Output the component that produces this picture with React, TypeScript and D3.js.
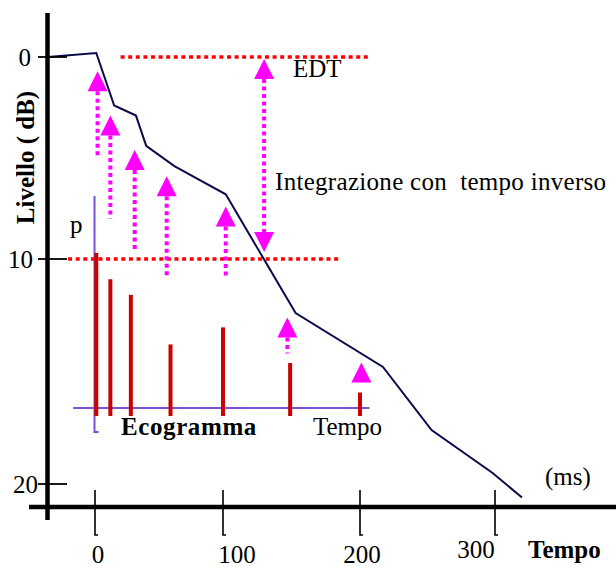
import React from 'react';
import * as d3 from 'd3';

// decay curve (time in ms, level in dB below start)
const curveMs = [-37, 1, 15, 32, 40, 62, 102, 153, 217, 253, 298, 320];
const curveDb = [0, -0.2, 2.4, 2.9, 4.4, 5.4, 6.8, 12.4, 14.8, 17.6, 19.5, 20.6];

// echogram reflections
const echoMs = [1, 12, 28, 59, 100, 149, 200];
const echoAmp = [1.0, 0.83, 0.73, 0.41, 0.52, 0.29, 0.1];

// backward integration arrows
const arrowMs = [2, 12, 31, 56, 102, 147, 201];
const arrowTipDb = [0.7, 2.9, 4.6, 5.9, 7.4, 12.6, 14.6];
const arrowTailDb = [4.9, 8.0, 9.5, 10.8, 10.8, 14.2, 14.6];

// EDT range
const edtDb = [0, 10];
const edtFromMs = [20, -21];
const edtToMs = [206, 185];
const edtArrowMs = 130;

const xTicks = [0, 100, 200, 300];
const yTicks = [0, 10, 20];

const W = 616;
const H = 568;
const serif = '"Liberation Serif", "Times New Roman", serif';

const x = d3.scaleLinear().domain([0, 100, 200, 300]).range([95, 223, 360, 495]);
const y = d3.scaleLinear().domain([0, 10, 20]).range([57, 259, 484]);
const amp = d3.scaleLinear().domain([0, 1]).range([408, 253]);

const line = d3
  .line<number>()
  .x((d) => x(d))
  .y((_d, i) => y(curveDb[i]));

const head = (cx: number, tip: number, dir: number) =>
  `M${cx},${tip} L${cx - 10},${tip + dir * 20} L${cx + 10},${tip + dir * 20} Z`;

// hand placement of the tick labels, as in the slide
const xLabelDx = [3, 14, 2, -19];
const xLabelDy = [0, 0, 0, -5];
const yLabelDx = [-4, -2, 3];

export default function App() {
  const magenta = '#ff00ff';
  const purple = '#7b4fd8';
  const dbx = x(edtArrowMs);
  return (
    <svg width={W} height={H} style={{ position: 'absolute', left: 0, top: 0, background: '#fff' }} fontFamily={serif}>
      <defs>
        <clipPath id="ylab">
          <rect x={16} y={0} width={40} height={H} />
        </clipPath>
      </defs>

      {/* EDT dotted lines */}
      {edtDb.map((d, i) => (
        <line key={'edt' + i} x1={x(edtFromMs[i])} x2={x(edtToMs[i])} y1={y(d)} y2={y(d)}
          stroke="#ff0000" strokeWidth={3.5} strokeDasharray="4 3.6" />
      ))}

      {/* echogram axes */}
      <path d={`M${x(0) - 0.5},196 V${amp(0) + 24} h4`} fill="none" stroke={purple} strokeWidth={2} />
      <line x1={x(-17)} x2={x(207)} y1={amp(0)} y2={amp(0)} stroke={purple} strokeWidth={2} />

      {/* reflections */}
      {echoMs.map((t, i) => (
        <line key={'e' + i} x1={x(t)} x2={x(t)} y1={amp(0) + 8} y2={amp(echoAmp[i])} stroke="#cc0000" strokeWidth={4} />
      ))}

      {/* integration arrows */}
      {arrowMs.map((t, i) => {
        const cx = x(t);
        const tip = y(arrowTipDb[i]);
        const base = tip + 20;
        const tail = y(arrowTailDb[i]);
        return (
          <g key={'a' + i}>
            {tail > base + 2 && (
              <line x1={cx} x2={cx} y1={base} y2={tail} stroke={magenta} strokeWidth={4} strokeDasharray="4 3.5" />
            )}
            <path d={head(cx, tip, 1)} fill={magenta} />
          </g>
        );
      })}

      {/* EDT double arrow */}
      <line x1={dbx} x2={dbx} y1={y(edtDb[0]) + 22} y2={y(edtDb[1]) - 27} stroke={magenta} strokeWidth={4} strokeDasharray="4 3.5" />
      <path d={head(dbx, y(edtDb[0]) + 2, 1)} fill={magenta} />
      <path d={head(dbx, y(edtDb[1]) - 7, -1)} fill={magenta} />

      {/* decay curve */}
      <path d={line(curveMs) || ''} fill="none" stroke="#0a0a4a" strokeWidth={2} />

      {/* axes */}
      <line x1={47.5} x2={47.5} y1={13} y2={520} stroke="#000" strokeWidth={4.5} />
      <line x1={29} x2={W} y1={507} y2={507} stroke="#000" strokeWidth={4.5} />

      {yTicks.map((t, i) => (
        <g key={'yt' + t}>
          <line x1={38} x2={67} y1={y(t)} y2={y(t)} stroke="#000" strokeWidth={1.8} />
          <text x={35 + yLabelDx[i]} y={y(t) + 8.5} textAnchor="end" fontSize={25}>{t}</text>
        </g>
      ))}

      {xTicks.map((t, i) => (
        <g key={'xt' + t}>
          <path d={`M${x(t)},490 V535 h3`} fill="none" stroke="#000" strokeWidth={1.6} />
          <text x={x(t) + xLabelDx[i]} y={563 + xLabelDy[i]} textAnchor="middle" fontSize={25}>{t}</text>
        </g>
      ))}

      {/* labels */}
      <g clipPath="url(#ylab)">
        <text transform="translate(33.5,157.5) rotate(-90)" textAnchor="middle" fontSize={25} fontWeight="bold">
          Livello ( dB)
        </text>
      </g>
      <text x={293} y={77} fontSize={25}>EDT</text>
      <text x={275} y={190} fontSize={25} letterSpacing={0.3}>Integrazione con&#160; tempo inverso</text>
      <text x={70} y={233} fontSize={25}>p</text>
      <text x={121} y={435} fontSize={25} fontWeight="bold" letterSpacing={0.6}>Ecogramma</text>
      <text x={313} y={435} fontSize={25}>Tempo</text>
      <text x={545} y={485} fontSize={25}>(ms)</text>
      <text x={528} y={558} fontSize={25} fontWeight="bold">Tempo</text>
    </svg>
  );
}
